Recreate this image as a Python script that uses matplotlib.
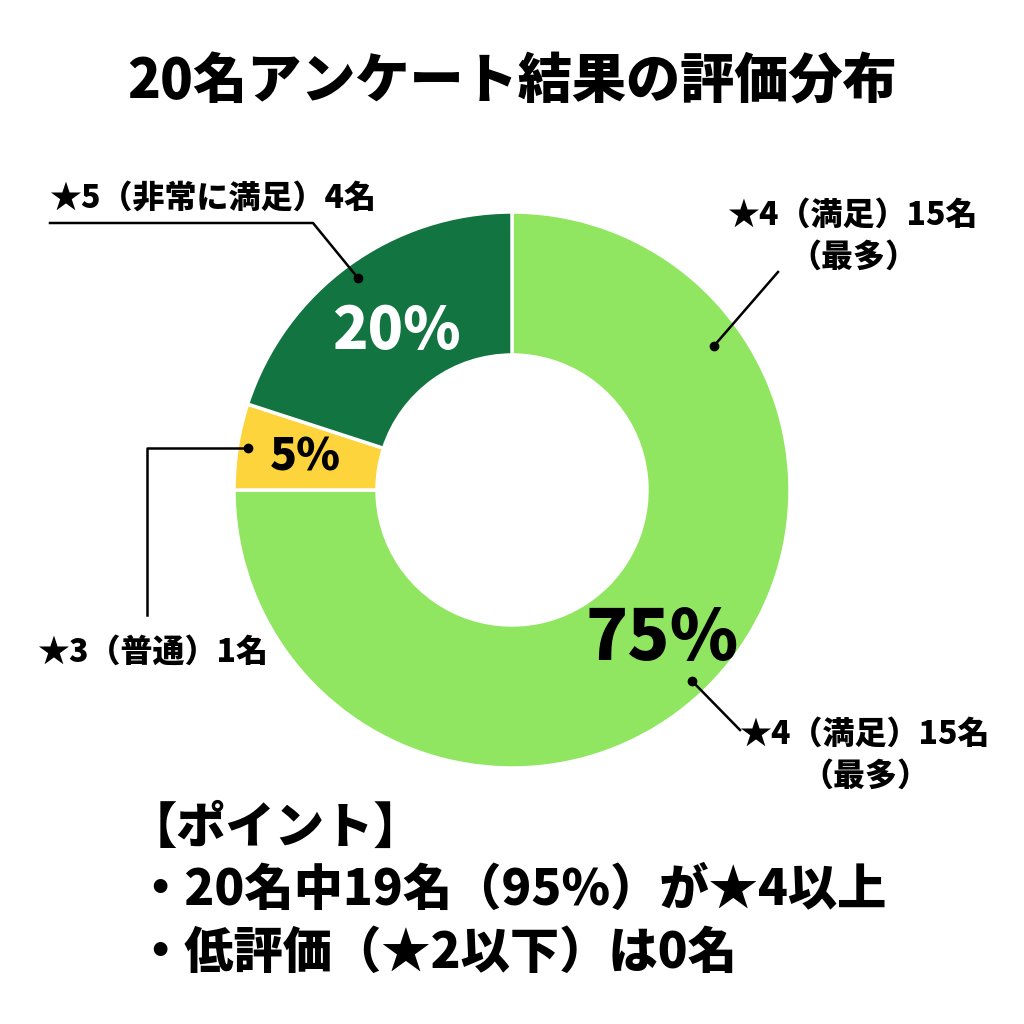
import numpy as np
import matplotlib
matplotlib.use("Agg")
import matplotlib.pyplot as plt

plt.rcParams['font.family'] = ['Noto Sans CJK JP', 'DejaVu Sans']

# ---- data ----
categories = ["★4（満足）", "★3（普通）", "★5（非常に満足）"]
counts = [15, 1, 4]
percent_labels = ["75%", "5%", "20%"]
colors = ["#90E660", "#FDD43B", "#127440"]
title = "20名アンケート結果の評価分布"
label_5 = "★5（非常に満足）4名"
label_4 = "★4（満足）15名\n（最多）"
label_3 = "★3（普通）1名"
points = ["【ポイント】", "・20名中19名（95%）が★4以上", "・低評価（★2以下）は0名"]

W = H = 1024
WT = 'black'
fig = plt.figure(figsize=(10.24, 10.24), dpi=100)
ax = fig.add_axes([0, 0, 1, 1])
ax.set_xlim(0, W)
ax.set_ylim(0, H)
ax.set_aspect('equal')
ax.axis('off')

def Y(y):
    return H - y

cx, cy = 512, Y(490)
R_out, R_in = 278, 135

wedges, _ = ax.pie(counts, colors=colors, startangle=90, counterclock=False,
                   center=(cx, cy), radius=R_out,
                   wedgeprops=dict(width=R_out - R_in, edgecolor='white', linewidth=2.5))
ax.set_xlim(0, W)
ax.set_ylim(0, H)

def pt(angle_deg, r):
    a = np.deg2rad(angle_deg)
    return cx + r * np.cos(a), cy + r * np.sin(a)

mids = [(w.theta1 + w.theta2) / 2 for w in wedges]

# percentage labels
pct_style = [dict(color='black', size=50), dict(color='black', size=32), dict(color='white', size=42)]
pct_r = [212, 209, 196]
for m, lab, st, r in zip(mids, percent_labels, pct_style, pct_r):
    x, y = pt(m, r)
    ax.text(x, y, lab, ha='center', va='center', fontweight=WT, **st)

# title
fig.text(0.5, 1 - 82 / H, title, ha='center', va='center', fontsize=39, fontweight=WT)

lab_kw = dict(fontsize=23, fontweight=WT, color='black')
lw = 1.8

# ★5 label
d5 = pt(mids[2], 262)
ax.plot([50, 313, d5[0]], [Y(223), Y(223), d5[1]], color='black', lw=lw)
ax.plot(*d5, 'o', color='black', ms=6)
ax.text(50, Y(198), label_5, ha='left', va='center', **lab_kw)

# ★3 label
d3 = pt(mids[1], 267)
ax.plot([d3[0], 147, 147], [d3[1], d3[1], Y(615)], color='black', lw=lw)
ax.plot(*d3, 'o', color='black', ms=6)
ax.text(38, Y(652), label_3, ha='left', va='center', **lab_kw)

# ★4 top label
d4a = pt(35.5, 248)
ax.plot([d4a[0], 778], [d4a[1], Y(272)], color='black', lw=lw)
ax.plot(*d4a, 'o', color='black', ms=6)
ax.text(853, Y(236), label_4, ha='center', va='center', linespacing=1.35, **lab_kw)

# ★4 bottom label
d4b = pt(-46.7, 262)
ax.plot([d4b[0], 740], [d4b[1], Y(730)], color='black', lw=lw)
ax.plot(*d4b, 'o', color='black', ms=6)
ax.text(865, Y(755), label_4, ha='center', va='center', linespacing=1.35, **lab_kw)

# bottom points
ys = [828, 890, 953]
xs = [128, 135, 135]
for t, x, y in zip(points, xs, ys):
    fig.text(x / W, 1 - y / H, t, ha='left', va='center', fontsize=35.5, fontweight=WT)

fig.savefig("out.png", dpi=100, facecolor='white')
